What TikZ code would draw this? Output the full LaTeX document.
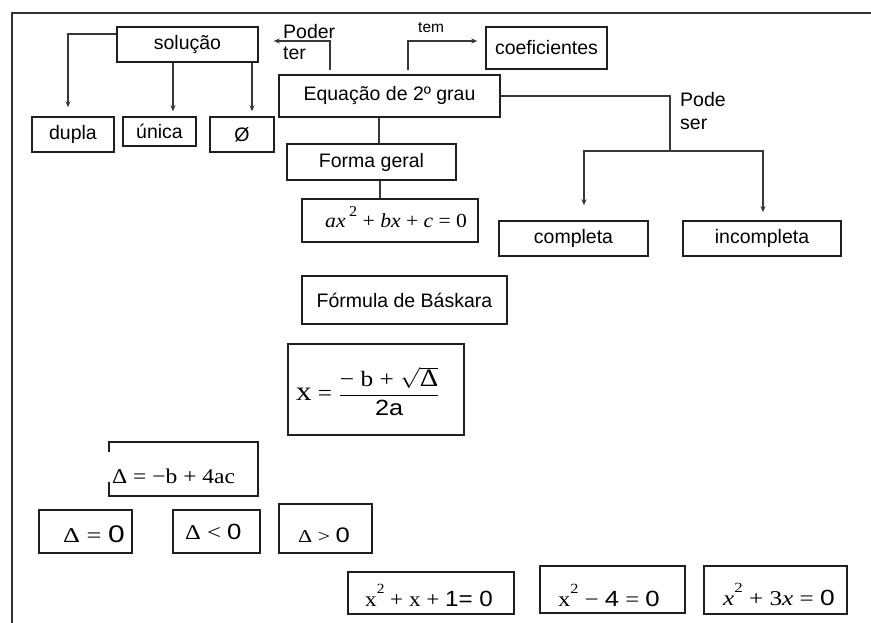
\documentclass[tikz,border=0pt]{standalone}
\usepackage{fontspec}
\usepackage{graphicx}
\setmainfont{Liberation Serif}
\setsansfont{Liberation Sans}
\usetikzlibrary{arrows.meta}

% superscript two used in the formulas
\newcommand{\suptwo}{\raisebox{0.6em}{\fontsize{14}{14}\selectfont 2}}

\tikzset{
  box/.style={draw=black!88, line width=1.5pt, inner sep=0pt},
  lbl/.style={font=\fontsize{19.5}{22}\selectfont\sffamily},
  frm/.style={font=\fontsize{21}{24}\selectfont\rmfamily, inner sep=0pt},
  link/.style={draw=black!78, line width=1.2pt},
  arr/.style={link, -{Stealth[length=6pt,width=5pt]}},
}

\begin{document}
\begin{tikzpicture}[x=1pt,y=-1pt]
\useasboundingbox (0,0) rectangle (871,623);
\fill[white] (0,0) rectangle (871,623);

% page frame (top and left edges)
\draw[black!80, line width=1.6pt] (12,623) -- (12,13) -- (871,13);

% concept boxes
\node[box, lbl, minimum width=141pt, minimum height=35pt] (sol)    at (187.5,44.5) {solução};
\node[box, lbl, minimum width=82pt,  minimum height=35pt] (dupla)  at (73,134.5)   {dupla};
\node[box, lbl, minimum width=73pt,  minimum height=29pt] (unica)  at (159.5,131.5) {única};
\node[box, lbl, minimum width=64pt,  minimum height=35pt] (vazio)  at (242,134.5)  {Ø};
\node[box, lbl, minimum width=221pt, minimum height=42pt] (eq)     at (389.5,96)   {Equação de 2º grau};
\node[box, lbl, minimum width=121pt, minimum height=42pt] (coef)   at (546.5,48)   {coeficientes};
\node[box, lbl, minimum width=169pt, minimum height=36pt] (forma)  at (371.5,162)  {Forma geral};
\node[box, minimum width=176pt, minimum height=43pt]      (geral)  at (390,220.5)  {};
\node[box, lbl, minimum width=149pt, minimum height=35pt] (comp)   at (573.5,238.5) {completa};
\node[box, lbl, minimum width=158pt, minimum height=35pt] (incomp) at (762,238.5)  {incompleta};
\node[box, lbl, minimum width=205pt, minimum height=48pt] (bask)   at (404.5,300)  {Fórmula de Báskara};
\node[box, minimum width=176pt, minimum height=91pt]      (xform)  at (376,389.5)  {};
\node[minimum width=149pt, minimum height=54pt, inner sep=0pt] (delta) at (183.5,469) {};
\node[box, minimum width=93pt,  minimum height=43pt] (dzero) at (85.5,531.5)  {};
\node[box, minimum width=87pt,  minimum height=43pt] (dneg)  at (216.5,531.5) {};
\node[box, minimum width=93pt,  minimum height=49pt] (dpos)  at (325.5,528.5) {};
\node[box, minimum width=166pt, minimum height=42pt] (exa)   at (431,593)     {};
\node[box, minimum width=145pt, minimum height=47pt] (exb)   at (612.5,589.5) {};
\node[box, minimum width=143pt, minimum height=48pt] (exc)   at (775.5,590)   {};

% discriminant box, its left edge broken by the text
\draw[black!88, line width=1.5pt]
  ([yshift=-10pt]delta.north west) -- (delta.north west) -- (delta.north east)
  -- (delta.south east) -- (delta.south west) -- ([yshift=14pt]delta.south west);

% formulas
\node[frm, anchor=base west] (geraltxt) at (325,228)
  {\scalebox{1.08}[1]{\fontsize{20}{22}\selectfont\itshape ax\,\upshape\raisebox{0.55em}{\fontsize{15}{15}\selectfont 2}\ + \itshape bx \upshape+ \itshape c \upshape= 0}};
\node[frm, anchor=center] (xformtxt) at (368,391)
  {\scalebox{1.15}[1]{\fontsize{22}{26}\selectfont{\fontsize{27}{28}\selectfont x} = $\displaystyle\frac{\hbox{− b + }\sqrt{\hbox{\fontsize{25}{28}\selectfont Δ}}}{\hbox{\sffamily\fontsize{22}{24}\selectfont 2a}}$}};
\node[frm, anchor=base west] (deltatxt) at (112,483)
  {\scalebox{1.12}[1]{Δ = −b + 4ac}};
\node[frm, anchor=base west] (dzerotxt) at (63,542)
  {\scalebox{1.25}[1]{Δ = {\sffamily\fontsize{24}{26}\selectfont 0}}};
\node[frm, anchor=base west] (dnegtxt) at (185,539)
  {\scalebox{1.17}[1]{Δ < {\sffamily\fontsize{22}{26}\selectfont 0}}};
\node[frm, anchor=base west] (dpostxt) at (298,542)
  {\scalebox{1.22}[1]{\fontsize{18}{20}\selectfont Δ > {\sffamily\fontsize{21}{24}\selectfont 0}}};
\node[frm, anchor=base west] (exatxt) at (365,606)
  {\scalebox{1.1}[1]{x\suptwo\ + x + {\sffamily\fontsize{22}{24}\selectfont 1= 0}}};
\node[frm, anchor=base west] (exbtxt) at (558,606)
  {\scalebox{1.17}[1]{x\suptwo\ − {\sffamily\fontsize{22}{24}\selectfont 4} = {\sffamily\fontsize{22}{24}\selectfont 0}}};
\node[frm, anchor=base west] (exctxt) at (723,605)
  {\scalebox{1.2}[1]{\itshape x\upshape\suptwo\ + 3\itshape x \upshape= {\sffamily\fontsize{22}{24}\selectfont 0}}};

% connector labels
\node[lbl, anchor=base west, inner sep=0pt] (poder) at (283,39) {Poder};
\node[lbl, anchor=base west, inner sep=0pt] (ter)   at (283,60) {ter};
\node[lbl, anchor=base west, inner sep=0pt, font=\fontsize{15.5}{18}\selectfont\sffamily] (tem) at (418,33) {tem};
\node[lbl, anchor=base west, inner sep=0pt] (pode)  at (680,107) {Pode};
\node[lbl, anchor=base west, inner sep=0pt] (ser)   at (680,130) {ser};

% connectors
\draw[arr, shorten >=9pt] ([yshift=10.5pt]sol.west) -| ([xshift=-5pt]dupla.north);
\draw[arr, shorten >=5pt] ([xshift=-14.5pt]sol.south) -- ([xshift=13.5pt]unica.north);
\draw[arr, shorten >=5pt] ([xshift=64.5pt]sol.south) -- ([xshift=10pt]vazio.north);
\draw[arr, shorten <=4pt, shorten >=15pt] ([xshift=-59.5pt]eq.north) |- ([yshift=3.5pt]sol.east);
\draw[arr, shorten <=4pt, shorten >=8pt] ([xshift=18.5pt]eq.north) |- ([yshift=7pt]coef.west);
\coordinate (split) at (670,151);
\draw[link] (eq.east) -| (split);
\draw[arr, shorten >=15pt] (split) -| ([xshift=10.5pt]comp.north);
\draw[arr, shorten >=8pt] (split) -| ([xshift=1pt]incomp.north);
\draw[link] ([xshift=-10.5pt]eq.south) -- ([xshift=7.5pt]forma.north);
\draw[link] ([xshift=8.5pt]forma.south) -- ([xshift=-10pt]geral.north);
\end{tikzpicture}
\end{document}
